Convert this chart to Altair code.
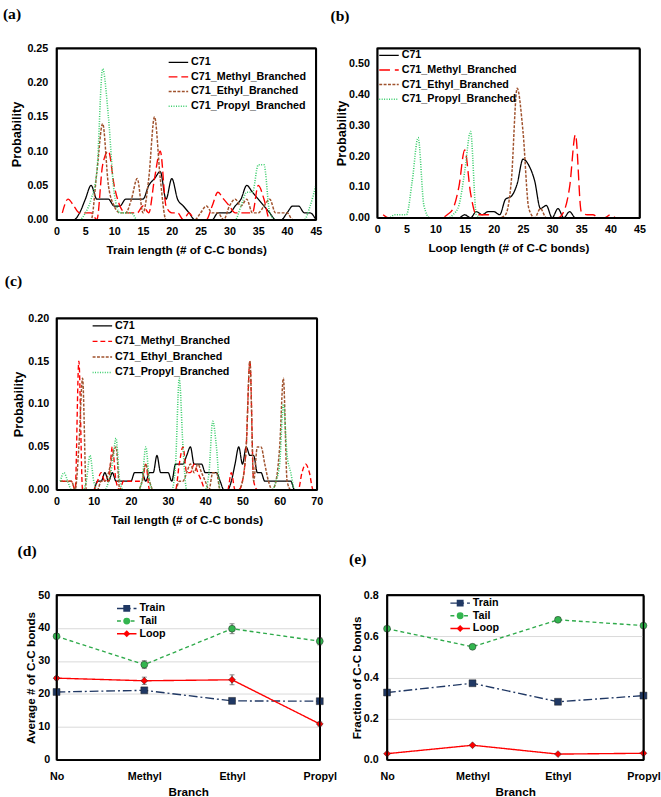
import altair as alt
import pandas as pd

SANS = "Liberation Sans"
SERIF = "Liberation Serif"

series_names = ["C71", "C71_Methyl_Branched", "C71_Ethyl_Branched", "C71_Propyl_Branched"]
series_colors = ["#000000", "#FF0000", "#A0522D", "#33CC66"]

# ---------------- (a) Train length ----------------
train_len = list(range(1, 46))
train_c71 = [0, 0, 0, 0.01, 0.03, 0.05, 0.03, 0.03, 0.03, 0.02,
             0.02, 0.03, 0.03, 0.03, 0.03, 0.05, 0.06, 0.07, 0.03, 0.06,
             0.03, 0.02, 0.01, 0, 0, 0, 0, 0.01, 0.01, 0.01,
             0.02, 0.03, 0.05, 0.04, 0.03, 0.02, 0.01, 0, 0, 0.01,
             0.02, 0.02, 0.01, 0.01, 0]
train_methyl = [0.01, 0.03, 0.02, 0.01, 0.01, 0.01, 0, 0.08, 0.10, 0.05,
                0.02, 0.01, 0.01, 0.01, 0.02, 0.01, 0.06, 0.10, 0.02, 0.01,
                0.01, 0, 0.01, 0, 0, 0, 0.02, 0.04, 0.03, 0.02,
                0.01, 0.01, 0.01, 0.01, 0.05, 0.03, 0, 0, 0, 0,
                0, 0, 0, 0, 0]
train_ethyl = [0, 0, 0, 0, 0, 0, 0.07, 0.14, 0.05, 0.02,
               0.01, 0.01, 0.03, 0.06, 0.01, 0.06, 0.15, 0.06, 0, 0,
               0, 0, 0, 0, 0.01, 0.02, 0.01, 0.01, 0, 0.02,
               0.03, 0.02, 0.03, 0.01, 0.01, 0.02, 0.03, 0.01, 0.01, 0.01,
               0, 0, 0, 0, 0]
train_propyl = [0, 0, 0, 0, 0.01, 0.03, 0.07, 0.22, 0.15, 0.04,
                0.01, 0.01, 0.01, 0, 0, 0, 0, 0, 0, 0,
                0, 0, 0, 0, 0, 0, 0, 0, 0, 0,
                0, 0.02, 0.04, 0.04, 0.08, 0.08, 0.01, 0, 0, 0,
                0, 0, 0, 0.02, 0.05]

# ---------------- (b) Loop length ----------------
loop_len = list(range(1, 46))
loop_c71 = [0, 0, 0, 0, 0, 0, 0, 0, 0, 0,
            0, 0, 0, 0, 0.01, 0, 0.02, 0.01, 0.02, 0.02,
            0.01, 0.06, 0.07, 0.11, 0.19, 0.17, 0.12, 0.03, 0.04, 0,
            0.03, 0, 0.02, 0, 0, 0, 0, 0, 0, 0,
            0, 0, 0, 0, 0]
loop_methyl = [0.01, 0, 0, 0, 0, 0, 0, 0, 0, 0,
               0, 0.01, 0.03, 0.10, 0.22, 0.08, 0.01, 0.01, 0.01, 0,
               0, 0, 0, 0, 0, 0, 0, 0, 0, 0,
               0, 0.02, 0.10, 0.27, 0.02, 0.01, 0.01, 0, 0, 0.01,
               0, 0, 0, 0, 0]
loop_ethyl = [0, 0, 0, 0, 0, 0, 0, 0, 0, 0,
              0, 0, 0, 0, 0, 0, 0, 0, 0, 0,
              0, 0.01, 0.12, 0.42, 0.28, 0.03, 0, 0.03, 0, 0,
              0, 0, 0, 0, 0, 0, 0, 0, 0, 0,
              0, 0, 0, 0, 0]
loop_propyl = [0, 0, 0.01, 0.01, 0.01, 0.12, 0.26, 0.04, 0, 0,
               0, 0, 0.01, 0.04, 0.15, 0.28, 0.01, 0, 0, 0,
               0, 0, 0, 0, 0, 0, 0, 0, 0, 0,
               0, 0, 0, 0, 0, 0, 0, 0, 0, 0,
               0, 0, 0, 0, 0]

# ---------------- (c) Tail length ----------------
tail_len = list(range(1, 71))
tail_c71 = [0, 0, 0, 0, 0, 0, 0, 0, 0, 0,
            0.01, 0.01, 0.02, 0.01, 0.02, 0.01, 0.01, 0.01, 0.01, 0.01,
            0.02, 0.02, 0.02, 0.01, 0.02, 0.02, 0.04, 0.02, 0.02, 0.02,
            0.01, 0.03, 0.03, 0.03, 0.04, 0.05, 0.03, 0.03, 0.03, 0.02,
            0.02, 0.02, 0.02, 0.01, 0, 0, 0.01, 0.03, 0.05, 0.03,
            0.05, 0.04, 0.04, 0.02, 0.02, 0.01, 0.01, 0.01, 0.01, 0.01,
            0.01, 0.01, 0.01, 0, 0, 0, 0, 0, 0, 0]
tail_methyl = [0.01, 0.01, 0.01, 0.01, 0, 0.15, 0, 0, 0, 0,
               0.01, 0.02, 0.01, 0.01, 0.05, 0.01, 0, 0.01, 0.01, 0.01,
               0.01, 0.01, 0.01, 0.03, 0, 0, 0, 0, 0, 0,
               0, 0, 0.03, 0.05, 0.02, 0.02, 0.03, 0.02, 0.01, 0,
               0, 0, 0, 0, 0, 0, 0.02, 0, 0, 0.01,
               0.05, 0.15, 0.01, 0, 0, 0, 0, 0, 0, 0,
               0, 0, 0, 0, 0, 0.02, 0.03, 0.02, 0, 0]
tail_ethyl = [0.01, 0.01, 0.01, 0.01, 0, 0.05, 0.13, 0, 0, 0,
              0, 0.01, 0.01, 0.02, 0.04, 0.05, 0, 0, 0, 0,
              0, 0, 0.01, 0.03, 0.01, 0, 0, 0, 0, 0,
              0, 0, 0.01, 0.01, 0.02, 0.03, 0.02, 0.03, 0.02, 0.01,
              0, 0.02, 0.02, 0, 0, 0, 0, 0, 0, 0.01,
              0.05, 0.15, 0.01, 0.05, 0.05, 0.03, 0.01, 0, 0.01, 0.05,
              0.13, 0.01, 0, 0, 0, 0, 0, 0, 0, 0]
tail_propyl = [0.01, 0.02, 0.01, 0, 0, 0, 0, 0.01, 0.04, 0.01,
               0, 0, 0, 0.01, 0.03, 0.06, 0.01, 0, 0, 0,
               0, 0, 0.01, 0.05, 0.01, 0, 0, 0, 0, 0,
               0, 0.03, 0.13, 0.05, 0, 0, 0, 0, 0, 0,
               0.02, 0.08, 0.05, 0, 0, 0, 0, 0, 0, 0,
               0, 0, 0, 0, 0, 0, 0, 0, 0.01, 0.03,
               0.10, 0.04, 0.02, 0, 0, 0, 0, 0, 0, 0]

# ---------------- (d), (e) by branch ----------------
branches = ["No", "Methyl", "Ethyl", "Propyl"]
parts = ["Train", "Tail", "Loop"]
part_colors = ["#203864", "#2EAA4A", "#FF0000"]
part_fills = ["#203864", "#33B54F", "#FF0000"]
part_shapes = ["square", "circle", "diamond"]
part_dashes = [[9, 3, 2, 3], [4, 3], [1, 0]]

avg_train = [20.6, 21.1, 17.9, 17.8]
avg_tail = [37.5, 28.9, 39.8, 36.0]
avg_loop = [24.8, 24.0, 24.3, 10.9]
avg_train_err = [0.4, 0.4, 0.4, 0.4]
avg_tail_err = [0.6, 1.2, 1.5, 1.1]
avg_loop_err = [0.5, 1.1, 1.5, 0.6]

frac_train = [0.327, 0.372, 0.282, 0.312]
frac_tail = [0.637, 0.549, 0.680, 0.652]
frac_loop = [0.030, 0.071, 0.028, 0.032]

INDEP = dict(color="independent", strokeDash="independent", strokeWidth="independent",
             fill="independent", shape="independent")
FRAME = alt.ViewBackground(stroke="black", strokeWidth=1.5)

TOP_AXIS = alt.Axis(orient="top", labels=False, ticks=False, title=None, grid=False,
                    domain=True, domainColor="black", domainWidth=1.5)
RIGHT_AXIS = alt.Axis(orient="right", labels=False, ticks=False, title=None, grid=False,
                      domain=True, domainColor="black", domainWidth=1.5)


def frame_layer(x0, x1, y0, y1, xscale, yscale, xtype):
    # four edges of the plotting box, in data units (left, right, bottom, top)
    edges = pd.DataFrame({
        "fx": [x0, x1, x0, x0], "fx2": [x0, x1, x1, x1],
        "fy": [y0, y0, y0, y1], "fy2": [y1, y1, y0, y1],
    })
    return alt.Chart(edges).mark_rule(color="black", strokeWidth=1.5).encode(
        x=alt.X("fx:" + xtype, scale=xscale, axis=TOP_AXIS),
        x2="fx2",
        y=alt.Y("fy:Q", scale=yscale, axis=RIGHT_AXIS),
        y2="fy2",
    )


def dist_frame(xs, cols):
    rows = []
    for i, (name, vals) in enumerate(zip(series_names, cols)):
        for x, v in zip(xs, vals):
            rows.append({"x": x, "p": v, "series": name, "order": i})
    return pd.DataFrame(rows)


def line_legend(lx, ly, row_h, font=11):
    return alt.Legend(title=None, orient="none", legendX=lx, legendY=ly,
                      symbolType="stroke", symbolSize=400, symbolStrokeWidth=1.5,
                      clipHeight=row_h, rowPadding=0, padding=0,
                      labelFont=SANS, labelFontSize=font, labelFontWeight="bold",
                      labelColor="black", labelOffset=2, labelLimit=300)


def panel_title(text, dx, offset):
    return alt.TitleParams(text=text, anchor="start", frame="group", dx=dx, offset=offset,
                           baseline="alphabetic", font=SERIF, fontSize=16,
                           fontWeight="bold", color="black")


def dist_panel(df, label, dx, toff, xtitle, xmax, xstep, ymax, yvals, w, h,
               dashes, lx, ly, row_h, ylp, ytp):
    leg = line_legend(lx, ly, row_h)
    xscale = alt.Scale(domain=[0, xmax], nice=False)
    yscale = alt.Scale(domain=[0, ymax], nice=False)
    xaxis = alt.Axis(values=list(range(0, xmax + 1, xstep)), format="d",
                     title=xtitle, grid=False, domain=True, domainColor="black",
                     domainWidth=1.5, ticks=False, labelFlush=False,
                     tickSize=0, labelPadding=6, titlePadding=9,
                     labelFont=SANS, labelFontSize=11, labelFontWeight="bold",
                     titleFont=SANS, titleFontSize=12, titleFontWeight="bold",
                     labelColor="black", titleColor="black")
    yaxis = alt.Axis(values=yvals, format=".2f", title="Probability",
                     grid=False, domain=True, domainColor="black", domainWidth=1.5,
                     ticks=False, tickSize=0,
                     labelPadding=ylp, titlePadding=ytp,
                     labelFont=SANS, labelFontSize=11, labelFontWeight="bold",
                     titleFont=SANS, titleFontSize=13, titleFontWeight="bold",
                     labelColor="black", titleColor="black")
    lines = alt.Chart(df).mark_line(interpolate="monotone", clip=True).encode(
        x=alt.X("x:Q", scale=xscale, axis=xaxis, title=xtitle),
        y=alt.Y("p:Q", scale=yscale, axis=yaxis, title="Probability"),
        color=alt.Color("series:N", scale=alt.Scale(domain=series_names, range=series_colors),
                        legend=leg),
        strokeDash=alt.StrokeDash("series:N", scale=alt.Scale(domain=series_names, range=dashes),
                                  legend=leg),
        strokeWidth=alt.StrokeWidth("series:N",
                                    scale=alt.Scale(domain=series_names, range=[1.3, 1.6, 1.6, 1.2]),
                                    legend=None),
        order=alt.Order("order:Q"),
    )
    box = frame_layer(0, xmax, 0, ymax, xscale, yscale, "Q")
    return alt.layer(lines, box).resolve_axis(x="independent", y="independent").properties(
        width=w, height=h, view=FRAME, title=panel_title(label, dx, toff))


panel_a = dist_panel(dist_frame(train_len, [train_c71, train_methyl, train_ethyl, train_propyl]),
                     "(a)", -55, 8, "Train length (# of C-C bonds)", 45, 5, 0.25,
                     [0, 0.05, 0.10, 0.15, 0.20, 0.25], 266, 176,
                     [[1, 0], [9, 4], [3, 1.5], [1, 1.5]], 114, 7, 15, 9, 4)
panel_b = dist_panel(dist_frame(loop_len, [loop_c71, loop_methyl, loop_ethyl, loop_propyl]),
                     "(b)", -48, 11, "Loop length (# of C-C bonds)", 45, 5, 0.55,
                     [0, 0.1, 0.2, 0.3, 0.4, 0.5], 269, 174,
                     [[1, 0], [11, 5], [3, 1.5], [1, 1.5]], 1, 0, 14.7, 8, 0)
panel_c = dist_panel(dist_frame(tail_len, [tail_c71, tail_methyl, tail_ethyl, tail_propyl]),
                     "(c)", -53, 11, "Tail length (# of C-C bonds)", 70, 10, 0.20,
                     [0, 0.05, 0.10, 0.15, 0.20], 267, 176,
                     [[1, 0], [5, 3], [3, 1.5], [1, 1.5]], 36, 0, 15.5, 8, 3)


def branch_frame(tr, ta, lo, tr_e, ta_e, lo_e):
    rows = []
    for part, vals, errs in zip(parts, [tr, ta, lo], [tr_e, ta_e, lo_e]):
        for b, v, e in zip(branches, vals, errs):
            rows.append({"branch": b, "value": v, "lo": v - e, "hi": v + e,
                         "series": part, "marker": part + " "})
    return pd.DataFrame(rows)


def branch_panel(df, label, dx, toff, ytitle, ymax, yvals, yfmt, w, h, lx, ly, row_h,
                 ylp, ytp, errors):
    xaxis = alt.Axis(title="Branch", labelAngle=0, grid=False, domain=True, domainColor="black",
                     domainWidth=1.5, ticks=False, tickSize=0, labelPadding=11, titlePadding=6,
                     labelFont=SANS, labelFontSize=11, labelFontWeight="bold",
                     titleFont=SANS, titleFontSize=12, titleFontWeight="bold",
                     labelColor="black", titleColor="black")
    xscale = alt.Scale(type="point", domain=branches, padding=0)
    yaxis = alt.Axis(values=yvals, format=yfmt, title=ytitle, grid=True,
                     gridColor="#D9D9D9", domain=True, domainColor="black", domainWidth=1.5,
                     ticks=False, tickSize=0,
                     labelPadding=ylp, titlePadding=ytp,
                     labelFont=SANS, labelFontSize=11, labelFontWeight="bold",
                     titleFont=SANS, titleFontSize=12, titleFontWeight="bold",
                     labelColor="black", titleColor="black")
    yscale = alt.Scale(domain=[0, ymax], nice=False)
    xenc = alt.X("branch:N", sort=branches, scale=xscale, axis=xaxis, title="Branch")
    leg = line_legend(lx, ly, row_h)
    pleg = alt.Legend(title=None, orient="none", legendX=lx + 5.5, legendY=ly,
                      symbolSize=50, clipHeight=row_h, rowPadding=0, padding=0,
                      labelExpr="''", labelFontSize=11, symbolStrokeWidth=0.5,
                      symbolStrokeColor="#222222")
    base = alt.Chart(df)
    lines = base.mark_line(strokeWidth=1.4).encode(
        x=xenc, y=alt.Y("value:Q", scale=yscale, axis=yaxis, title=ytitle),
        color=alt.Color("series:N", scale=alt.Scale(domain=parts, range=part_colors), legend=leg),
        strokeDash=alt.StrokeDash("series:N", scale=alt.Scale(domain=parts, range=part_dashes),
                                  legend=leg),
    )
    layers = [lines]
    if errors:
        bars = base.mark_errorbar(ticks=alt.MarkConfig(size=5), color="#555555",
                                  thickness=1).encode(
            x=xenc, y=alt.Y("lo:Q", scale=yscale, axis=yaxis, title=ytitle), y2="hi:Q")
        layers.append(bars)
    pts = base.mark_point(filled=True, size=50, opacity=1, stroke="#222222",
                          strokeWidth=0.5).encode(
        x=xenc, y=alt.Y("value:Q", scale=yscale, axis=yaxis, title=ytitle),
        fill=alt.Fill("marker:N", scale=alt.Scale(domain=[p + " " for p in parts], range=part_fills),
                      legend=pleg),
        shape=alt.Shape("marker:N", scale=alt.Scale(domain=[p + " " for p in parts], range=part_shapes),
                        legend=pleg),
    )
    layers.append(pts)
    box = frame_layer(branches[0], branches[-1], 0, ymax, xscale, yscale, "N")
    return alt.layer(alt.layer(*layers), box).resolve_axis(
        x="independent", y="independent").properties(
        width=w, height=h, view=FRAME, title=panel_title(label, dx, toff))


panel_d = branch_panel(branch_frame(avg_train, avg_tail, avg_loop,
                                    avg_train_err, avg_tail_err, avg_loop_err),
                       "(d)", -40, 18, "Average # of C-C bonds", 50, [0, 10, 20, 30, 40, 50], "d",
                       270, 169, 61, 8, 11.3, 7, 0, True)
panel_e = branch_panel(branch_frame(frac_train, frac_tail, frac_loop,
                                    [0, 0, 0, 0], [0, 0, 0, 0], [0, 0, 0, 0]),
                       "(e)", -39, 10, "Fraction of C-C bonds", 0.8, [0, 0.2, 0.4, 0.6, 0.8], ".1f",
                       263, 169, 64, 2, 12.5, 9, 0, False)

row1 = alt.hconcat(panel_a, panel_b, spacing=63, bounds="flush").resolve_scale(**INDEP)
row3 = alt.hconcat(panel_d, panel_e, spacing=69, bounds="flush").resolve_scale(**INDEP)

chart = alt.concat(row1, panel_c, row3, columns=1, align="none", spacing=16).resolve_scale(
    **INDEP
).properties(
    padding={"left": 2, "top": -5, "right": 0, "bottom": 0}
).configure_view(
    stroke="black", strokeWidth=1.5
)

chart.save("out.html", embed_options={"renderer": "svg", "actions": False})
